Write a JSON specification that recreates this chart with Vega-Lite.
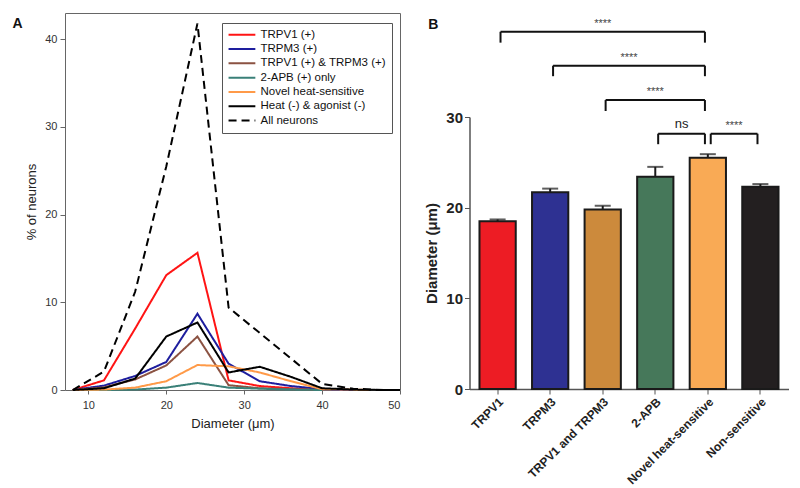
{
  "$schema": "https://vega.github.io/schema/vega-lite/v6.json",
  "background": "white",
  "padding": {"left": 12, "top": 12, "right": 5, "bottom": 5},
  "spacing": 19.5,
  "config": {"font": "Liberation Sans", "view": {"stroke": null}},
  "resolve": {"scale": {"x": "independent", "y": "independent", "color": "independent", "strokeDash": "independent"}},
  "datasets": {
    "dist": [
      {"s": "TRPV1 (+)", "d": 8, "p": 0}, {"s": "TRPV1 (+)", "d": 12, "p": 1.1}, {"s": "TRPV1 (+)", "d": 16, "p": 7.0}, {"s": "TRPV1 (+)", "d": 20, "p": 13.1}, {"s": "TRPV1 (+)", "d": 24, "p": 15.65}, {"s": "TRPV1 (+)", "d": 28, "p": 1.1}, {"s": "TRPV1 (+)", "d": 32, "p": 0.45}, {"s": "TRPV1 (+)", "d": 36, "p": 0.2}, {"s": "TRPV1 (+)", "d": 40, "p": 0},
      {"s": "TRPM3 (+)", "d": 8, "p": 0}, {"s": "TRPM3 (+)", "d": 12, "p": 0.5}, {"s": "TRPM3 (+)", "d": 16, "p": 1.6}, {"s": "TRPM3 (+)", "d": 20, "p": 3.2}, {"s": "TRPM3 (+)", "d": 24, "p": 8.7}, {"s": "TRPM3 (+)", "d": 28, "p": 3.0}, {"s": "TRPM3 (+)", "d": 32, "p": 1.0}, {"s": "TRPM3 (+)", "d": 36, "p": 0.45}, {"s": "TRPM3 (+)", "d": 40, "p": 0.1}, {"s": "TRPM3 (+)", "d": 44, "p": 0},
      {"s": "TRPV1 (+) & TRPM3 (+)", "d": 8, "p": 0}, {"s": "TRPV1 (+) & TRPM3 (+)", "d": 12, "p": 0.3}, {"s": "TRPV1 (+) & TRPM3 (+)", "d": 16, "p": 1.2}, {"s": "TRPV1 (+) & TRPM3 (+)", "d": 20, "p": 2.8}, {"s": "TRPV1 (+) & TRPM3 (+)", "d": 24, "p": 6.1}, {"s": "TRPV1 (+) & TRPM3 (+)", "d": 28, "p": 0.55}, {"s": "TRPV1 (+) & TRPM3 (+)", "d": 32, "p": 0.2}, {"s": "TRPV1 (+) & TRPM3 (+)", "d": 36, "p": 0.1}, {"s": "TRPV1 (+) & TRPM3 (+)", "d": 40, "p": 0},
      {"s": "2-APB (+) only", "d": 8, "p": 0}, {"s": "2-APB (+) only", "d": 12, "p": 0}, {"s": "2-APB (+) only", "d": 16, "p": 0.05}, {"s": "2-APB (+) only", "d": 20, "p": 0.27}, {"s": "2-APB (+) only", "d": 24, "p": 0.8}, {"s": "2-APB (+) only", "d": 28, "p": 0.27}, {"s": "2-APB (+) only", "d": 32, "p": 0.15}, {"s": "2-APB (+) only", "d": 36, "p": 0.05}, {"s": "2-APB (+) only", "d": 40, "p": 0},
      {"s": "Novel heat-sensitive", "d": 8, "p": 0}, {"s": "Novel heat-sensitive", "d": 12, "p": 0.05}, {"s": "Novel heat-sensitive", "d": 16, "p": 0.27}, {"s": "Novel heat-sensitive", "d": 20, "p": 1.0}, {"s": "Novel heat-sensitive", "d": 24, "p": 2.85}, {"s": "Novel heat-sensitive", "d": 28, "p": 2.7}, {"s": "Novel heat-sensitive", "d": 32, "p": 2.0}, {"s": "Novel heat-sensitive", "d": 36, "p": 1.0}, {"s": "Novel heat-sensitive", "d": 40, "p": 0.1}, {"s": "Novel heat-sensitive", "d": 44, "p": 0.05}, {"s": "Novel heat-sensitive", "d": 46, "p": 0},
      {"s": "Heat (-) & agonist (-)", "d": 8, "p": 0}, {"s": "Heat (-) & agonist (-)", "d": 12, "p": 0.2}, {"s": "Heat (-) & agonist (-)", "d": 16, "p": 1.3}, {"s": "Heat (-) & agonist (-)", "d": 20, "p": 6.1}, {"s": "Heat (-) & agonist (-)", "d": 24, "p": 7.7}, {"s": "Heat (-) & agonist (-)", "d": 28, "p": 2.0}, {"s": "Heat (-) & agonist (-)", "d": 32, "p": 2.65}, {"s": "Heat (-) & agonist (-)", "d": 36, "p": 1.5}, {"s": "Heat (-) & agonist (-)", "d": 40, "p": 0.2}, {"s": "Heat (-) & agonist (-)", "d": 44, "p": 0.05}, {"s": "Heat (-) & agonist (-)", "d": 48, "p": 0}, {"s": "Heat (-) & agonist (-)", "d": 50, "p": 0},
      {"s": "All neurons", "d": 8, "p": 0}, {"s": "All neurons", "d": 12, "p": 2.1}, {"s": "All neurons", "d": 16, "p": 11.2}, {"s": "All neurons", "d": 20, "p": 25.5}, {"s": "All neurons", "d": 24, "p": 41.8}, {"s": "All neurons", "d": 28, "p": 9.4}, {"s": "All neurons", "d": 32, "p": 6.5}, {"s": "All neurons", "d": 36, "p": 3.6}, {"s": "All neurons", "d": 40, "p": 0.7}, {"s": "All neurons", "d": 44, "p": 0.15}, {"s": "All neurons", "d": 48, "p": 0}, {"s": "All neurons", "d": 50, "p": 0}
    ],
    "bars": [
      {"cat": "TRPV1", "mean": 18.5, "upper": 18.7},
      {"cat": "TRPM3", "mean": 21.7, "upper": 22.1},
      {"cat": "TRPV1 and TRPM3", "mean": 19.8, "upper": 20.2},
      {"cat": "2-APB", "mean": 23.4, "upper": 24.5},
      {"cat": "Novel heat-sensitive", "mean": 25.5, "upper": 25.9},
      {"cat": "Non-sensitive", "mean": 22.3, "upper": 22.6}
    ],
    "brackets": [
      {"from": "TRPV1", "to": "Novel heat-sensitive", "top": 39.4, "bottom": 38.2},
      {"from": "TRPM3", "to": "Novel heat-sensitive", "top": 35.66, "bottom": 34.5},
      {"from": "TRPV1 and TRPM3", "to": "Novel heat-sensitive", "top": 31.87, "bottom": 30.66},
      {"from": "2-APB", "to": "Novel heat-sensitive", "top": 28.16, "bottom": 27.0},
      {"from": "Novel heat-sensitive", "to": "Non-sensitive", "top": 28.16, "bottom": 27.0}
    ],
    "labelsCentered": [
      {"mid": "TRPV1 and TRPM3", "top": 39.4, "label": "****"},
      {"mid": "2-APB", "top": 31.87, "label": "****"}
    ],
    "labelsGap": [
      {"mid": "TRPV1 and TRPM3", "top": 35.66, "label": "****"},
      {"mid": "Novel heat-sensitive", "top": 28.16, "label": "****"}
    ],
    "labelsNs": [
      {"mid": "2-APB", "top": 28.16, "label": "ns"}
    ]
  },
  "hconcat": [
    {
      "width": 335,
      "height": 377,
      "view": {"stroke": "#666", "strokeWidth": 1},
      "title": {"text": "A", "orient": "left", "anchor": "end", "angle": 0, "align": "right", "baseline": "top", "fontSize": 14, "fontWeight": "bold", "color": "#111", "offset": -7, "dy": 4},
      "data": {"name": "dist"},
      "mark": {"type": "line", "strokeWidth": 2},
      "encoding": {
        "x": {"field": "d", "type": "quantitative", "scale": {"domain": [7, 50], "nice": false, "zero": false},
          "axis": {"values": [10, 20, 30, 40, 50], "title": "Diameter (μm)", "grid": false, "domain": false, "tickColor": "#666", "tickSize": 4, "labelFontSize": 11, "labelColor": "#333", "labelPadding": 5, "titleFontSize": 13, "titleFontWeight": "normal", "titleColor": "#222", "titlePadding": 7}},
        "y": {"field": "p", "type": "quantitative", "scale": {"domain": [0, 43], "nice": false},
          "axis": {"values": [0, 10, 20, 30, 40], "title": "% of neurons", "grid": false, "domain": false, "tickColor": "#666", "tickSize": 5, "labelFontSize": 11, "labelColor": "#333", "labelPadding": 3, "titleFontSize": 13, "titleFontWeight": "normal", "titleColor": "#222", "titlePadding": 6}},
        "color": {"field": "s", "type": "nominal",
          "scale": {"domain": ["TRPV1 (+)", "TRPM3 (+)", "TRPV1 (+) & TRPM3 (+)", "2-APB (+) only", "Novel heat-sensitive", "Heat (-) & agonist (-)", "All neurons"],
            "range": ["#FF1414", "#1E1E9E", "#8B5242", "#3A8078", "#FF9A48", "#000000", "#000000"]},
          "legend": {"orient": "none", "legendX": 157, "legendY": 10, "title": null, "strokeColor": "#555", "fillColor": "white", "padding": 6, "symbolType": "M-1.3,0H5.4", "symbolSize": 64, "symbolStrokeWidth": 2, "symbolFillColor": "transparent", "labelOffset": 21, "labelFontSize": 11.5, "labelColor": "#111", "rowPadding": 1.3}},
        "strokeDash": {"field": "s", "type": "nominal",
          "scale": {"domain": ["TRPV1 (+)", "TRPM3 (+)", "TRPV1 (+) & TRPM3 (+)", "2-APB (+) only", "Novel heat-sensitive", "Heat (-) & agonist (-)", "All neurons"],
            "range": [[1, 0], [1, 0], [1, 0], [1, 0], [1, 0], [1, 0], [8, 5]]},
          "legend": null}
      }
    },
    {
      "vconcat": [
        {
          "width": 319,
          "height": 104,
          "title": {"text": "B", "orient": "left", "anchor": "end", "angle": 0, "align": "right", "baseline": "top", "fontSize": 14, "fontWeight": "bold", "color": "#111", "offset": 21, "dy": 5},
          "layer": [
            {
              "data": {"name": "brackets"},
              "mark": {"type": "rule", "strokeWidth": 2, "color": "#111"},
              "encoding": {
                "x": {"field": "from", "type": "nominal", "bandPosition": 0.58, "axis": null, "scale": {"domain": ["TRPV1", "TRPM3", "TRPV1 and TRPM3", "2-APB", "Novel heat-sensitive", "Non-sensitive"], "paddingInner": 0.31, "paddingOuter": 0.19}},
                "x2": {"field": "to", "bandPosition": 0.42},
                "y": {"field": "top", "type": "quantitative", "axis": null, "scale": {"domain": [30, 41.47], "nice": false, "zero": false}}
              }
            },
            {
              "data": {"name": "brackets"},
              "mark": {"type": "rule", "strokeWidth": 2, "color": "#111"},
              "encoding": {
                "x": {"field": "from", "type": "nominal", "bandPosition": 0.58},
                "y": {"field": "top", "type": "quantitative"},
                "y2": {"field": "bottom"}
              }
            },
            {
              "data": {"name": "brackets"},
              "mark": {"type": "rule", "strokeWidth": 2, "color": "#111"},
              "encoding": {
                "x": {"field": "to", "type": "nominal", "bandPosition": 0.42},
                "y": {"field": "top", "type": "quantitative"},
                "y2": {"field": "bottom"}
              }
            },
            {
              "data": {"name": "labelsCentered"},
              "mark": {"type": "text", "fontSize": 11, "color": "#444", "baseline": "alphabetic", "dy": -5},
              "encoding": {
                "x": {"field": "mid", "type": "nominal", "bandPosition": 0.5},
                "y": {"field": "top", "type": "quantitative"},
                "text": {"field": "label"}
              }
            },
            {
              "data": {"name": "labelsGap"},
              "mark": {"type": "text", "fontSize": 11, "color": "#444", "baseline": "alphabetic", "dy": -5},
              "encoding": {
                "x": {"field": "mid", "type": "nominal", "bandPosition": 1.224},
                "y": {"field": "top", "type": "quantitative"},
                "text": {"field": "label"}
              }
            },
            {
              "data": {"name": "labelsNs"},
              "mark": {"type": "text", "fontSize": 13, "color": "#222", "baseline": "alphabetic", "dy": -6},
              "encoding": {
                "x": {"field": "mid", "type": "nominal", "bandPosition": 1.224},
                "y": {"field": "top", "type": "quantitative"},
                "text": {"field": "label"}
              }
            }
          ]
        },
        {
          "width": 319,
          "height": 272,
          "layer": [
            {
              "data": {"name": "bars"},
              "mark": {"type": "bar", "stroke": "#1a1a1a", "strokeWidth": 2},
              "encoding": {
                "x": {"field": "cat", "type": "nominal", "sort": null,
                  "scale": {"domain": ["TRPV1", "TRPM3", "TRPV1 and TRPM3", "2-APB", "Novel heat-sensitive", "Non-sensitive"], "paddingInner": 0.31, "paddingOuter": 0.19},
                  "axis": {"title": null, "labelAngle": -45, "labelFontWeight": "bold", "labelFontSize": 12, "labelColor": "#222", "tickSize": 5, "tickColor": "#555", "domainColor": "#555", "domainWidth": 1.5, "labelPadding": 2}},
                "y": {"field": "mean", "type": "quantitative", "scale": {"domain": [0, 30], "nice": false},
                  "axis": {"values": [0, 10, 20, 30], "title": "Diameter (μm)", "grid": false, "tickSize": 5, "tickColor": "#555", "domainColor": "#555", "domainWidth": 1.5, "labelFontSize": 15, "labelFontWeight": "bold", "labelColor": "#222", "labelPadding": 2, "titleFontSize": 15, "titleFontWeight": "bold", "titleColor": "#222", "titlePadding": 6}},
                "color": {"field": "cat", "type": "nominal",
                  "scale": {"domain": ["TRPV1", "TRPM3", "TRPV1 and TRPM3", "2-APB", "Novel heat-sensitive", "Non-sensitive"],
                    "range": ["#ED1C24", "#2E3192", "#CC8A3C", "#46785A", "#F9AA55", "#231F20"]},
                  "legend": null}
              }
            },
            {
              "data": {"name": "bars"},
              "mark": {"type": "rule", "strokeWidth": 2, "color": "#1a1a1a"},
              "encoding": {
                "x": {"field": "cat", "type": "nominal"},
                "y": {"field": "mean", "type": "quantitative"},
                "y2": {"field": "upper"}
              }
            },
            {
              "data": {"name": "bars"},
              "mark": {"type": "tick", "thickness": 2, "size": 16, "color": "#1a1a1a", "orient": "horizontal"},
              "encoding": {
                "x": {"field": "cat", "type": "nominal"},
                "y": {"field": "upper", "type": "quantitative"}
              }
            }
          ]
        }
      ],
      "spacing": 0,
      "bounds": "flush",
      "resolve": {"scale": {"x": "independent", "y": "independent"}}
    }
  ]
}
